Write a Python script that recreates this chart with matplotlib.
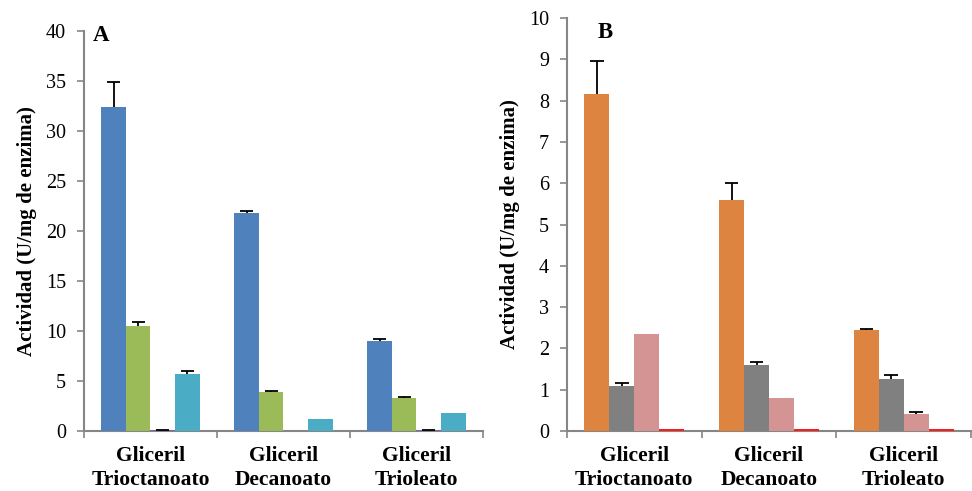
import numpy as np
import matplotlib
matplotlib.use("Agg")
import matplotlib.pyplot as plt

categories = ["Gliceril\nTrioctanoato", "Gliceril\nDecanoato", "Gliceril\nTrioleato"]

# Panel A series
a_s1 = [32.4, 21.8, 9.0]
a_s1_err = [2.5, 0.2, 0.15]
a_s2 = [10.5, 3.9, 3.3]
a_s2_err = [0.35, 0.1, 0.1]
a_s3 = [0.05, 0.0, 0.05]
a_s3_err = [0.05, np.nan, 0.05]
a_s4 = [5.7, 1.2, 1.8]
a_s4_err = [0.25, np.nan, np.nan]

# Panel B series
b_s1 = [8.15, 5.6, 2.45]
b_s1_err = [0.82, 0.4, 0.03]
b_s2 = [1.1, 1.6, 1.25]
b_s2_err = [0.07, 0.07, 0.1]
b_s3 = [2.35, 0.8, 0.4]
b_s3_err = [np.nan, np.nan, 0.07]
b_s4 = [0.06, 0.06, 0.06]

a_yticks = [0, 5, 10, 15, 20, 25, 30, 35, 40]
b_yticks = [0, 1, 2, 3, 4, 5, 6, 7, 8, 9, 10]

plt.rcParams['font.family'] = ['Liberation Serif', 'DejaVu Serif']

fig = plt.figure(figsize=(9.72, 4.91), dpi=100)
axA = fig.add_axes([0.0864, 0.1222, 0.4105, 0.8148])
axB = fig.add_axes([0.5833, 0.1222, 0.4157, 0.8411])

x = np.arange(len(categories))
w = 0.185
cap = 0.05
gray = '#868686'

def draw(ax, series, colors, yticks, ymax, letter, lx, ly):
    n = len(series)
    for i, (vals, errs) in enumerate(series):
        off = (i - (n - 1) / 2) * w
        ax.bar(x + off, vals, width=w, color=colors[i], edgecolor='none', zorder=2)
        if errs is not None:
            for xi, v, e in zip(x + off, vals, errs):
                if np.isnan(e):
                    continue
                ax.vlines(xi, v, v + e, colors='black', linewidth=1.3, zorder=3)
                ax.hlines(v + e, xi - cap, xi + cap, colors='black', linewidth=1.3, zorder=3)
    ax.set_xlim(-0.5, len(categories) - 0.5)
    ax.set_ylim(0, ymax)
    ax.set_yticks(yticks)
    ax.set_yticklabels([str(t) for t in yticks], fontsize=14.5)
    ax.set_xticks(x)
    ax.set_xticklabels(categories, fontsize=15.5, fontweight='bold', linespacing=1.25)
    ax.tick_params(axis='x', length=0, pad=11)
    ax.set_xticks(np.arange(len(categories) + 1) - 0.5, minor=True)
    ax.tick_params(axis='x', which='minor', length=5, color=gray, width=1.2)
    ax.tick_params(axis='y', length=5, color=gray, width=1.2, pad=8)
    for s in ['top', 'right']:
        ax.spines[s].set_visible(False)
    for s in ['left', 'bottom']:
        ax.spines[s].set_color(gray)
        ax.spines[s].set_linewidth(1.5)
        ax.spines[s].set_zorder(1.5)
    ax.set_ylabel('Actividad (U/mg de enzima)', fontsize=15, fontweight='bold', labelpad=6)
    ax.text(lx, ly, letter, transform=ax.transAxes, fontsize=16.5, fontweight='bold',
            ha='left', va='top')

draw(axA,
     [(a_s1, a_s1_err), (a_s2, a_s2_err), (a_s3, a_s3_err), (a_s4, a_s4_err)],
     ['#4F81BD', '#9BBB59', '#8064A2', '#4BACC6'],
     a_yticks, 40, 'A', 0.022, 1.015)
draw(axB,
     [(b_s1, b_s1_err), (b_s2, b_s2_err), (b_s3, b_s3_err), (b_s4, None)],
     ['#DD8540', '#808080', '#D59494', '#FF1A1A'],
     b_yticks, 10, 'B', 0.075, 0.99)

fig.savefig('out.png', dpi=100)
